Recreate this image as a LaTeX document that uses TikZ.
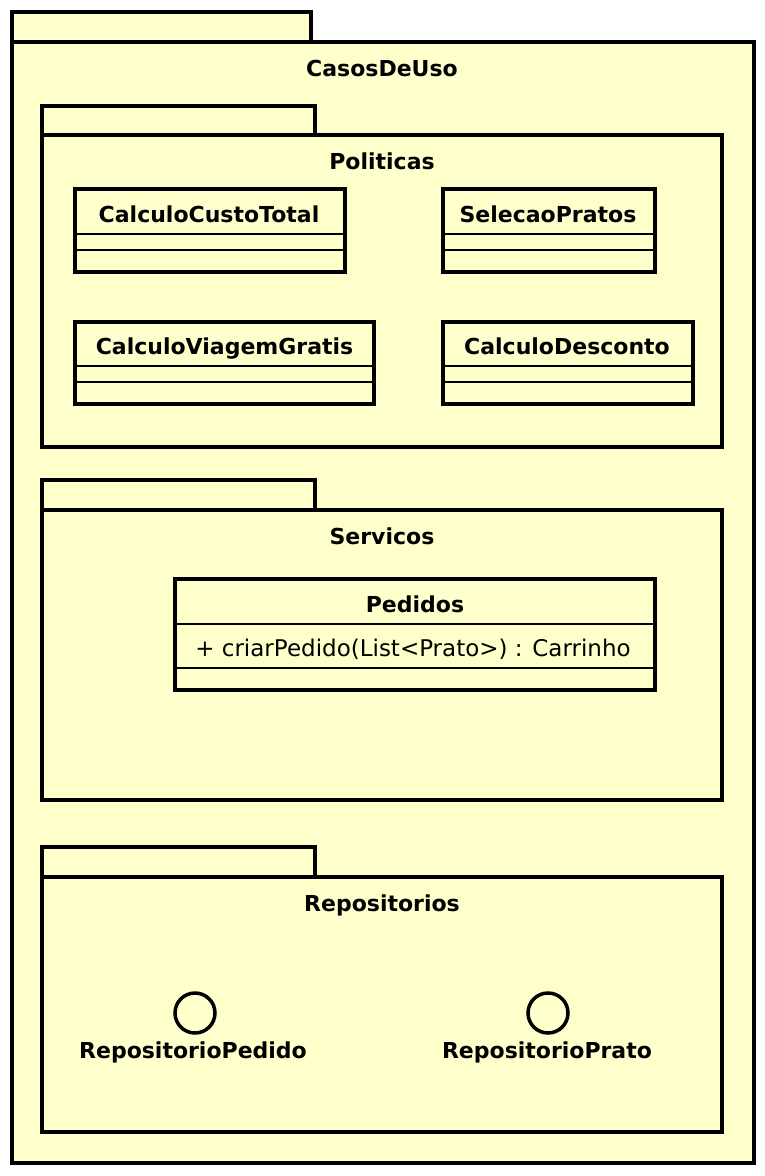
\documentclass[tikz,border=0pt]{standalone}
\usepackage{fontspec}
\setmainfont{DejaVu Sans}
\definecolor{pkgfill}{HTML}{FFFFCC}
\tikzset{
  pkg/.style={draw=black, fill=pkgfill, line width=4pt},
  cls/.style={draw=black, fill=pkgfill, line width=4pt},
  sep/.style={draw=black, line width=1.5pt},
  ttl/.style={font=\fontsize{22}{26}\selectfont\bfseries, inner sep=0pt, anchor=base},
  mth/.style={font=\fontsize{23}{27}\selectfont, inner sep=0pt, anchor=base},
  iface/.style={circle, draw=black, line width=3.5pt, minimum size=40pt, inner sep=0pt},
}
\begin{document}
\begin{tikzpicture}[x=1pt,y=-1pt]
\useasboundingbox (0,0) rectangle (764,1176);
% outer package
\draw[pkg] (12,12) rectangle (311,42);
\draw[pkg] (12,42) rectangle (754,1163);
\node[ttl] (tCasos) at (382,76) {CasosDeUso};
% Politicas
\draw[pkg] (42,106) rectangle (315,135);
\draw[pkg] (42,135) rectangle (722,447);
\node[ttl] (tPol) at (382,169) {Politicas};
% classes
\draw[cls] (75,189) rectangle (345,272);
\draw[sep] (75,234) -- (345,234) (75,250) -- (345,250);
\node[ttl] (cCT) at (209,222) {CalculoCustoTotal};
\draw[cls] (443,189) rectangle (655,272);
\draw[sep] (443,234) -- (655,234) (443,250) -- (655,250);
\node[ttl] (cSP) at (548,222) {SelecaoPratos};
\draw[cls] (75,322) rectangle (374,404);
\draw[sep] (75,366) -- (374,366) (75,382) -- (374,382);
\node[ttl] (cVG) at (224.5,354) {CalculoViagemGratis};
\draw[cls] (443,322) rectangle (693,404);
\draw[sep] (443,366) -- (693,366) (443,382) -- (693,382);
\node[ttl] (cCD) at (567,354) {CalculoDesconto};
% Servicos
\draw[pkg] (42,480) rectangle (315,510);
\draw[pkg] (42,510) rectangle (722,800);
\node[ttl] (tSer) at (382,544) {Servicos};
\draw[cls] (175,579) rectangle (655,690);
\draw[sep] (175,624) -- (655,624) (175,668) -- (655,668);
\node[ttl] (cPed) at (415,612) {Pedidos};
\node[mth] (mPed) at (413,656) {+ criarPedido(List<Prato>) : Carrinho};
% Repositorios
\draw[pkg] (42,847) rectangle (315,877);
\draw[pkg] (42,877) rectangle (722,1132);
\node[ttl] (tRep) at (382,911) {Repositorios};
\node[iface] (iRP) at (195,1013) {};
\node[ttl] (lRP) at (193,1058) {RepositorioPedido};
\node[iface] (iRPr) at (548,1013) {};
\node[ttl] (lRPr) at (547,1058) {RepositorioPrato};
\end{tikzpicture}
\end{document}
